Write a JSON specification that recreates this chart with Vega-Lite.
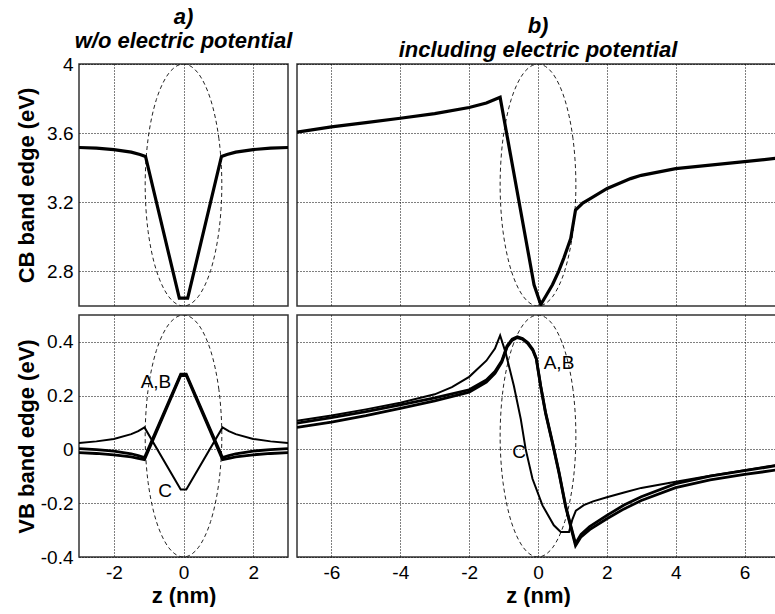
{
  "$schema": "https://vega.github.io/schema/vega-lite/v6.json",
  "padding": {"left": 14, "top": 5, "right": 0, "bottom": 0},
  "background": "white",
  "datasets": {
    "cb": [
      {"panel": "a", "z": -3, "E": 3.517}, {"panel": "a", "z": -2.5, "E": 3.513}, {"panel": "a", "z": -2, "E": 3.505},
      {"panel": "a", "z": -1.5, "E": 3.49}, {"panel": "a", "z": -1.25, "E": 3.477}, {"panel": "a", "z": -1.09, "E": 3.465},
      {"panel": "a", "z": -0.12, "E": 2.645}, {"panel": "a", "z": 0.12, "E": 2.645}, {"panel": "a", "z": 1.09, "E": 3.465},
      {"panel": "a", "z": 1.25, "E": 3.477}, {"panel": "a", "z": 1.5, "E": 3.49}, {"panel": "a", "z": 2, "E": 3.505},
      {"panel": "a", "z": 2.5, "E": 3.513}, {"panel": "a", "z": 3, "E": 3.517},
      {"panel": "b", "z": -7, "E": 3.606}, {"panel": "b", "z": -6, "E": 3.636}, {"panel": "b", "z": -5, "E": 3.661},
      {"panel": "b", "z": -4, "E": 3.686}, {"panel": "b", "z": -3, "E": 3.713}, {"panel": "b", "z": -2, "E": 3.748},
      {"panel": "b", "z": -1.5, "E": 3.774}, {"panel": "b", "z": -1.1, "E": 3.807}, {"panel": "b", "z": -0.115, "E": 2.723},
      {"panel": "b", "z": 0.08, "E": 2.608}, {"panel": "b", "z": 0.25, "E": 2.665}, {"panel": "b", "z": 0.42, "E": 2.723},
      {"panel": "b", "z": 0.6, "E": 2.8}, {"panel": "b", "z": 0.75, "E": 2.877}, {"panel": "b", "z": 0.95, "E": 2.99},
      {"panel": "b", "z": 1.09, "E": 3.155}, {"panel": "b", "z": 1.3, "E": 3.195}, {"panel": "b", "z": 1.53, "E": 3.222},
      {"panel": "b", "z": 2.01, "E": 3.28}, {"panel": "b", "z": 2.69, "E": 3.337}, {"panel": "b", "z": 3, "E": 3.356},
      {"panel": "b", "z": 4, "E": 3.395}, {"panel": "b", "z": 5, "E": 3.415}, {"panel": "b", "z": 6, "E": 3.435},
      {"panel": "b", "z": 7, "E": 3.456}
    ],
    "vb": [
      {"panel": "a", "curve": "A", "z": -3, "E": 0.003}, {"panel": "a", "curve": "A", "z": -2.5, "E": -0.001},
      {"panel": "a", "curve": "A", "z": -2, "E": -0.006}, {"panel": "a", "curve": "A", "z": -1.5, "E": -0.016},
      {"panel": "a", "curve": "A", "z": -1.3, "E": -0.023}, {"panel": "a", "curve": "A", "z": -1.12, "E": -0.03},
      {"panel": "a", "curve": "A", "z": -0.08, "E": 0.28}, {"panel": "a", "curve": "A", "z": 0.08, "E": 0.28},
      {"panel": "a", "curve": "A", "z": 1.12, "E": -0.03}, {"panel": "a", "curve": "A", "z": 1.3, "E": -0.023},
      {"panel": "a", "curve": "A", "z": 1.5, "E": -0.016}, {"panel": "a", "curve": "A", "z": 2, "E": -0.006},
      {"panel": "a", "curve": "A", "z": 2.5, "E": -0.001}, {"panel": "a", "curve": "A", "z": 3, "E": 0.003},
      {"panel": "a", "curve": "B", "z": -3, "E": -0.012}, {"panel": "a", "curve": "B", "z": -2.5, "E": -0.015},
      {"panel": "a", "curve": "B", "z": -2, "E": -0.02}, {"panel": "a", "curve": "B", "z": -1.5, "E": -0.028},
      {"panel": "a", "curve": "B", "z": -1.3, "E": -0.033}, {"panel": "a", "curve": "B", "z": -1.12, "E": -0.038},
      {"panel": "a", "curve": "B", "z": -0.08, "E": 0.275}, {"panel": "a", "curve": "B", "z": 0.08, "E": 0.275},
      {"panel": "a", "curve": "B", "z": 1.12, "E": -0.038}, {"panel": "a", "curve": "B", "z": 1.3, "E": -0.033},
      {"panel": "a", "curve": "B", "z": 1.5, "E": -0.028}, {"panel": "a", "curve": "B", "z": 2, "E": -0.02},
      {"panel": "a", "curve": "B", "z": 2.5, "E": -0.015}, {"panel": "a", "curve": "B", "z": 3, "E": -0.012},
      {"panel": "a", "curve": "C", "z": -3, "E": 0.024}, {"panel": "a", "curve": "C", "z": -2.5, "E": 0.03},
      {"panel": "a", "curve": "C", "z": -2, "E": 0.039}, {"panel": "a", "curve": "C", "z": -1.5, "E": 0.057},
      {"panel": "a", "curve": "C", "z": -1.3, "E": 0.068}, {"panel": "a", "curve": "C", "z": -1.12, "E": 0.082},
      {"panel": "a", "curve": "C", "z": -0.08, "E": -0.149}, {"panel": "a", "curve": "C", "z": 0.08, "E": -0.149},
      {"panel": "a", "curve": "C", "z": 1.12, "E": 0.082}, {"panel": "a", "curve": "C", "z": 1.3, "E": 0.068},
      {"panel": "a", "curve": "C", "z": 1.5, "E": 0.057}, {"panel": "a", "curve": "C", "z": 2, "E": 0.039},
      {"panel": "a", "curve": "C", "z": 2.5, "E": 0.03}, {"panel": "a", "curve": "C", "z": 3, "E": 0.024},

      {"panel": "b", "curve": "A", "z": -7, "E": 0.098}, {"panel": "b", "curve": "A", "z": -6, "E": 0.118},
      {"panel": "b", "curve": "A", "z": -5, "E": 0.141}, {"panel": "b", "curve": "A", "z": -4, "E": 0.166},
      {"panel": "b", "curve": "A", "z": -3, "E": 0.192}, {"panel": "b", "curve": "A", "z": -2, "E": 0.222},
      {"panel": "b", "curve": "A", "z": -1.5, "E": 0.258}, {"panel": "b", "curve": "A", "z": -1.25, "E": 0.29},
      {"panel": "b", "curve": "A", "z": -1.05, "E": 0.33}, {"panel": "b", "curve": "A", "z": -0.9, "E": 0.385},
      {"panel": "b", "curve": "A", "z": -0.75, "E": 0.41}, {"panel": "b", "curve": "A", "z": -0.6, "E": 0.419},
      {"panel": "b", "curve": "A", "z": -0.45, "E": 0.413}, {"panel": "b", "curve": "A", "z": -0.3, "E": 0.398},
      {"panel": "b", "curve": "A", "z": -0.15, "E": 0.372}, {"panel": "b", "curve": "A", "z": -0.05, "E": 0.34},
      {"panel": "b", "curve": "A", "z": 0.08, "E": 0.236}, {"panel": "b", "curve": "A", "z": 0.22, "E": 0.138},
      {"panel": "b", "curve": "A", "z": 0.42, "E": 0.027}, {"panel": "b", "curve": "A", "z": 0.61, "E": -0.084},
      {"panel": "b", "curve": "A", "z": 0.8, "E": -0.208}, {"panel": "b", "curve": "A", "z": 0.95, "E": -0.282},
      {"panel": "b", "curve": "A", "z": 1.09, "E": -0.35}, {"panel": "b", "curve": "A", "z": 1.25, "E": -0.316},
      {"panel": "b", "curve": "A", "z": 1.5, "E": -0.287}, {"panel": "b", "curve": "A", "z": 2, "E": -0.245},
      {"panel": "b", "curve": "A", "z": 2.5, "E": -0.207}, {"panel": "b", "curve": "A", "z": 3, "E": -0.176},
      {"panel": "b", "curve": "A", "z": 4, "E": -0.127}, {"panel": "b", "curve": "A", "z": 5, "E": -0.099},
      {"panel": "b", "curve": "A", "z": 6, "E": -0.079}, {"panel": "b", "curve": "A", "z": 7, "E": -0.059},
      {"panel": "b", "curve": "B", "z": -7, "E": 0.082}, {"panel": "b", "curve": "B", "z": -6, "E": 0.102},
      {"panel": "b", "curve": "B", "z": -5, "E": 0.126}, {"panel": "b", "curve": "B", "z": -4, "E": 0.153},
      {"panel": "b", "curve": "B", "z": -3, "E": 0.181}, {"panel": "b", "curve": "B", "z": -2, "E": 0.213},
      {"panel": "b", "curve": "B", "z": -1.5, "E": 0.25}, {"panel": "b", "curve": "B", "z": -1.25, "E": 0.283},
      {"panel": "b", "curve": "B", "z": -1.05, "E": 0.325}, {"panel": "b", "curve": "B", "z": -0.9, "E": 0.38},
      {"panel": "b", "curve": "B", "z": -0.75, "E": 0.406}, {"panel": "b", "curve": "B", "z": -0.6, "E": 0.416},
      {"panel": "b", "curve": "B", "z": -0.45, "E": 0.41}, {"panel": "b", "curve": "B", "z": -0.3, "E": 0.394},
      {"panel": "b", "curve": "B", "z": -0.15, "E": 0.368}, {"panel": "b", "curve": "B", "z": -0.05, "E": 0.336},
      {"panel": "b", "curve": "B", "z": 0.08, "E": 0.232}, {"panel": "b", "curve": "B", "z": 0.22, "E": 0.134},
      {"panel": "b", "curve": "B", "z": 0.42, "E": 0.023}, {"panel": "b", "curve": "B", "z": 0.61, "E": -0.088},
      {"panel": "b", "curve": "B", "z": 0.8, "E": -0.212}, {"panel": "b", "curve": "B", "z": 0.95, "E": -0.288},
      {"panel": "b", "curve": "B", "z": 1.09, "E": -0.358}, {"panel": "b", "curve": "B", "z": 1.25, "E": -0.325},
      {"panel": "b", "curve": "B", "z": 1.5, "E": -0.298}, {"panel": "b", "curve": "B", "z": 2, "E": -0.258},
      {"panel": "b", "curve": "B", "z": 2.5, "E": -0.221}, {"panel": "b", "curve": "B", "z": 3, "E": -0.19},
      {"panel": "b", "curve": "B", "z": 4, "E": -0.142}, {"panel": "b", "curve": "B", "z": 5, "E": -0.113},
      {"panel": "b", "curve": "B", "z": 6, "E": -0.093}, {"panel": "b", "curve": "B", "z": 7, "E": -0.075},
      {"panel": "b", "curve": "C", "z": -7, "E": 0.107}, {"panel": "b", "curve": "C", "z": -6, "E": 0.126},
      {"panel": "b", "curve": "C", "z": -5, "E": 0.149}, {"panel": "b", "curve": "C", "z": -4, "E": 0.174},
      {"panel": "b", "curve": "C", "z": -3, "E": 0.205}, {"panel": "b", "curve": "C", "z": -2.5, "E": 0.232},
      {"panel": "b", "curve": "C", "z": -2, "E": 0.27}, {"panel": "b", "curve": "C", "z": -1.5, "E": 0.33},
      {"panel": "b", "curve": "C", "z": -1.25, "E": 0.375}, {"panel": "b", "curve": "C", "z": -1.1, "E": 0.424},
      {"panel": "b", "curve": "C", "z": -0.94, "E": 0.36}, {"panel": "b", "curve": "C", "z": -0.7, "E": 0.236},
      {"panel": "b", "curve": "C", "z": -0.5, "E": 0.113}, {"panel": "b", "curve": "C", "z": -0.36, "E": 0.002},
      {"panel": "b", "curve": "C", "z": -0.16, "E": -0.109}, {"panel": "b", "curve": "C", "z": 0.13, "E": -0.208},
      {"panel": "b", "curve": "C", "z": 0.46, "E": -0.282}, {"panel": "b", "curve": "C", "z": 0.66, "E": -0.307},
      {"panel": "b", "curve": "C", "z": 0.9, "E": -0.307}, {"panel": "b", "curve": "C", "z": 1, "E": -0.26},
      {"panel": "b", "curve": "C", "z": 1.1, "E": -0.228}, {"panel": "b", "curve": "C", "z": 1.33, "E": -0.207},
      {"panel": "b", "curve": "C", "z": 1.6, "E": -0.193}, {"panel": "b", "curve": "C", "z": 2, "E": -0.178},
      {"panel": "b", "curve": "C", "z": 2.5, "E": -0.16}, {"panel": "b", "curve": "C", "z": 3, "E": -0.143},
      {"panel": "b", "curve": "C", "z": 4, "E": -0.12}, {"panel": "b", "curve": "C", "z": 5, "E": -0.098},
      {"panel": "b", "curve": "C", "z": 6, "E": -0.077}, {"panel": "b", "curve": "C", "z": 7, "E": -0.056}
    ],
    "labels": [
      {"panel": "a", "z": -0.79, "E": 0.25, "text": "A,B"},
      {"panel": "a", "z": -0.53, "E": -0.156, "text": "C"},
      {"panel": "b", "z": 0.61, "E": 0.323, "text": "A,B"},
      {"panel": "b", "z": -0.55, "E": -0.01, "text": "C"}
    ],
    "ellcb": [
      {"k": 0, "z": 1.1, "E": 3.3}, {"k": 1, "z": 1.0163, "E": 3.5679}, {"k": 2, "z": 0.7778, "E": 3.795},
      {"k": 3, "z": 0.421, "E": 3.9467}, {"k": 4, "z": 0, "E": 4.0}, {"k": 5, "z": -0.421, "E": 3.9467},
      {"k": 6, "z": -0.7778, "E": 3.795}, {"k": 7, "z": -1.0163, "E": 3.5679}, {"k": 8, "z": -1.1, "E": 3.3},
      {"k": 9, "z": -1.0163, "E": 3.0321}, {"k": 10, "z": -0.7778, "E": 2.805}, {"k": 11, "z": -0.421, "E": 2.6533},
      {"k": 12, "z": 0, "E": 2.6}, {"k": 13, "z": 0.421, "E": 2.6533}, {"k": 14, "z": 0.7778, "E": 2.805},
      {"k": 15, "z": 1.0163, "E": 3.0321}
    ],
    "ellvb": [
      {"k": 0, "z": 1.1, "E": 0.05}, {"k": 1, "z": 1.0163, "E": 0.2222}, {"k": 2, "z": 0.7778, "E": 0.3682},
      {"k": 3, "z": 0.421, "E": 0.4658}, {"k": 4, "z": 0, "E": 0.5}, {"k": 5, "z": -0.421, "E": 0.4658},
      {"k": 6, "z": -0.7778, "E": 0.3682}, {"k": 7, "z": -1.0163, "E": 0.2222}, {"k": 8, "z": -1.1, "E": 0.05},
      {"k": 9, "z": -1.0163, "E": -0.1222}, {"k": 10, "z": -0.7778, "E": -0.2682}, {"k": 11, "z": -0.421, "E": -0.3658},
      {"k": 12, "z": 0, "E": -0.4}, {"k": 13, "z": 0.421, "E": -0.3658}, {"k": 14, "z": 0.7778, "E": -0.2682},
      {"k": 15, "z": 1.0163, "E": -0.1222}
    ]
  },
  "columns": 2,
  "spacing": 9,
  "bounds": "flush",
  "concat": [
    {
      "width": 209,
      "height": 242,
      "title": {"text": ["a)", "w/o electric potential"]},
      "encoding": {
        "x": {"field": "z", "type": "quantitative", "scale": {"domain": [-3, 3], "nice": false, "zero": false},
              "axis": {"values": [-2, 0, 2], "labels": false, "title": null}},
        "y": {"field": "E", "type": "quantitative", "scale": {"domain": [2.6, 4], "nice": false, "zero": false},
              "axis": {"values": [2.8, 3.2, 3.6, 4], "labelExpr": "'' + datum.value", "title": "CB band edge (eV)", "titleX": -41, "titleY": 121}}
      },
      "layer": [
        {"data": {"name": "ellcb"}, "mark": {"type": "line", "interpolate": "cardinal-closed", "stroke": "#222", "strokeWidth": 1, "strokeDash": [4, 3], "clip": true},
         "encoding": {"order": {"field": "k"}}},
        {"data": {"name": "cb"}, "transform": [{"filter": "datum.panel === 'a'"}],
         "mark": {"type": "line", "stroke": "#000", "strokeWidth": 3.2, "clip": true}, "encoding": {}}
      ]
    },
    {
      "width": 482,
      "height": 242,
      "title": {"text": ["b)", "including electric potential"]},
      "encoding": {
        "x": {"field": "z", "type": "quantitative", "scale": {"domain": [-7, 7], "nice": false, "zero": false},
              "axis": {"values": [-6, -4, -2, 0, 2, 4, 6], "labels": false, "title": null}},
        "y": {"field": "E", "type": "quantitative", "scale": {"domain": [2.6, 4], "nice": false, "zero": false},
              "axis": {"values": [2.8, 3.2, 3.6, 4], "labels": false, "title": null}}
      },
      "layer": [
        {"data": {"name": "ellcb"}, "mark": {"type": "line", "interpolate": "cardinal-closed", "stroke": "#222", "strokeWidth": 1, "strokeDash": [4, 3], "clip": true},
         "encoding": {"order": {"field": "k"}}},
        {"data": {"name": "cb"}, "transform": [{"filter": "datum.panel === 'b'"}],
         "mark": {"type": "line", "stroke": "#000", "strokeWidth": 3.2, "clip": true}, "encoding": {}}
      ]
    },
    {
      "width": 209,
      "height": 242,
      "encoding": {
        "x": {"field": "z", "type": "quantitative", "scale": {"domain": [-3, 3], "nice": false, "zero": false},
              "axis": {"values": [-2, 0, 2], "labelExpr": "'' + datum.value", "title": "z (nm)"}},
        "y": {"field": "E", "type": "quantitative", "scale": {"domain": [-0.4, 0.5], "nice": false, "zero": false},
              "axis": {"values": [-0.4, -0.2, 0, 0.2, 0.4], "labelExpr": "'' + datum.value", "title": "VB band edge (eV)", "titleX": -41, "titleY": 121}}
      },
      "layer": [
        {"data": {"name": "ellvb"}, "mark": {"type": "line", "interpolate": "cardinal-closed", "stroke": "#222", "strokeWidth": 1, "strokeDash": [4, 3], "clip": true},
         "encoding": {"order": {"field": "k"}}},
        {"data": {"name": "vb"}, "transform": [{"filter": "datum.panel === 'a' && datum.curve !== 'C'"}],
         "mark": {"type": "line", "stroke": "#000", "strokeWidth": 2.8, "clip": true},
         "encoding": {"detail": {"field": "curve"}}},
        {"data": {"name": "vb"}, "transform": [{"filter": "datum.panel === 'a' && datum.curve === 'C'"}],
         "mark": {"type": "line", "stroke": "#000", "strokeWidth": 2, "clip": true}, "encoding": {}},
        {"data": {"name": "labels"}, "transform": [{"filter": "datum.panel === 'a'"}],
         "mark": {"type": "text", "font": "Liberation Sans", "fontSize": 19, "color": "#000"},
         "encoding": {"text": {"field": "text"}}}
      ]
    },
    {
      "width": 482,
      "height": 242,
      "encoding": {
        "x": {"field": "z", "type": "quantitative", "scale": {"domain": [-7, 7], "nice": false, "zero": false},
              "axis": {"values": [-6, -4, -2, 0, 2, 4, 6], "labelExpr": "'' + datum.value", "title": "z (nm)"}},
        "y": {"field": "E", "type": "quantitative", "scale": {"domain": [-0.4, 0.5], "nice": false, "zero": false},
              "axis": {"values": [-0.4, -0.2, 0, 0.2, 0.4], "labels": false, "title": null}}
      },
      "layer": [
        {"data": {"name": "ellvb"}, "mark": {"type": "line", "interpolate": "cardinal-closed", "stroke": "#222", "strokeWidth": 1, "strokeDash": [4, 3], "clip": true},
         "encoding": {"order": {"field": "k"}}},
        {"data": {"name": "vb"}, "transform": [{"filter": "datum.panel === 'b' && datum.curve !== 'C'"}],
         "mark": {"type": "line", "stroke": "#000", "strokeWidth": 2.8, "clip": true},
         "encoding": {"detail": {"field": "curve"}}},
        {"data": {"name": "vb"}, "transform": [{"filter": "datum.panel === 'b' && datum.curve === 'C'"}],
         "mark": {"type": "line", "stroke": "#000", "strokeWidth": 2, "clip": true}, "encoding": {}},
        {"data": {"name": "labels"}, "transform": [{"filter": "datum.panel === 'b'"}],
         "mark": {"type": "text", "font": "Liberation Sans", "fontSize": 19, "color": "#000"},
         "encoding": {"text": {"field": "text"}}}
      ]
    }
  ],
  "config": {
    "font": "Liberation Sans",
    "view": {"stroke": "#333", "strokeWidth": 1.5},
    "axis": {
      "grid": true, "gridColor": "#000", "gridDash": [1, 2], "gridWidth": 1, "gridOpacity": 1,
      "domain": false, "ticks": false, "labelFlush": false,
      "labelFont": "Liberation Sans", "labelFontSize": 19, "labelColor": "#000", "labelPadding": 6,
      "titleFont": "Liberation Sans", "titleFontSize": 22, "titleFontWeight": "bold", "titleColor": "#000", "titlePadding": 3
    },
    "title": {
      "font": "Liberation Sans", "fontSize": 22, "fontWeight": "bold", "fontStyle": "italic", "color": "#000",
      "lineHeight": 24, "offset": 2, "anchor": "middle"
    }
  }
}
